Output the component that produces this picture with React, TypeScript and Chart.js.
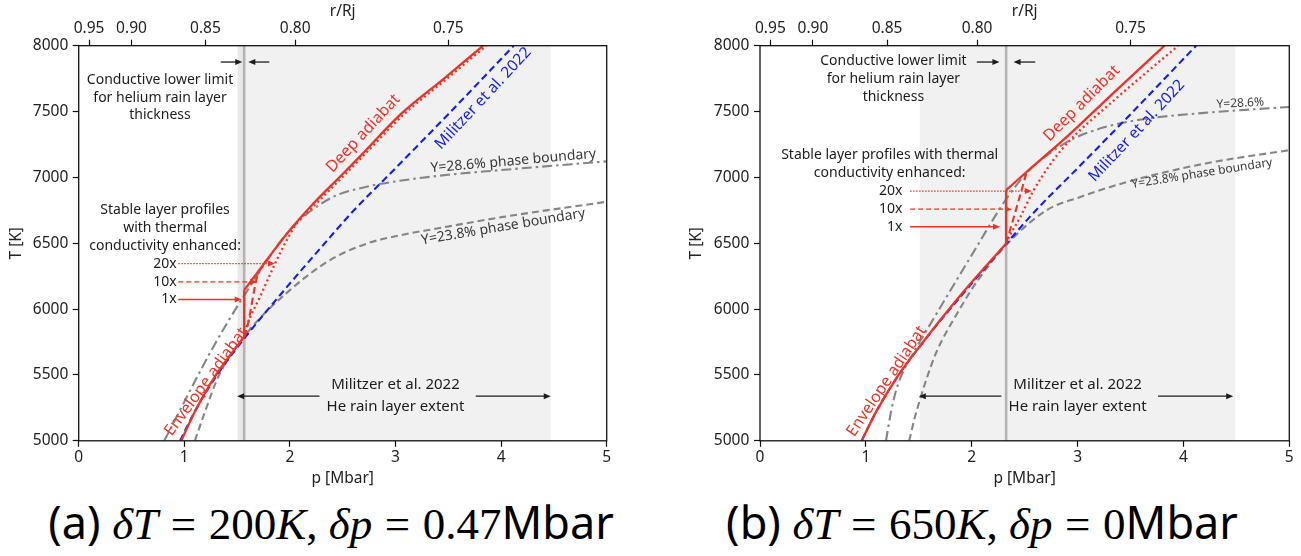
import React, { useEffect, useRef } from 'react';
import { Chart, registerables } from 'chart.js';

Chart.register(...registerables);

// ---------------- data ----------------
// top axis: r/Rj labels placed at the pressure where they occur
const R_TICK_P = [0.098, 0.5, 1.2, 2.05, 3.5];
const R_TICK_LABELS = ['0.95', '0.90', '0.85', '0.80', '0.75'];
const P_TICKS = [0, 1, 2, 3, 4, 5];
const T_TICKS = [5000, 5500, 6000, 6500, 7000, 7500, 8000];

// Militzer et al. 2022 profile (same in both panels)
const MIL_P = [0.96, 1.1, 1.3, 1.576, 1.9, 2.33, 2.6, 3.0, 3.5, 4.12];
const MIL_T = [5000, 5225, 5488, 5785, 6100, 6500, 6745, 7070, 7480, 8000];

// Panel (a): dT = 200 K, dp = 0.47 Mbar
const A_ENV_P = [0.97, 1.1, 1.3, 1.567];
const A_ENV_T = [5000, 5220, 5500, 5789];
const A_JUMP_P = [1.567, 1.567];
const A_JUMP_T = [5789, 6144];
const A_DEEP_P = [1.567, 1.78, 2.0, 2.222, 2.474, 2.664, 3.05, 3.45, 3.83];
const A_DEEP_T = [6144, 6372, 6600, 6802, 7005, 7160, 7480, 7745, 8000];
const A_K10_P = [1.567, 1.59, 1.69, 1.748, 1.78];
const A_K10_T = [5789, 5840, 6245, 6334, 6372];
const A_K20_P = [1.567, 1.59, 1.717, 1.86, 1.97, 2.064, 2.25, 2.5, 2.69, 3.08, 3.48, 3.86];
const A_K20_T = [5789, 5865, 6093, 6346, 6524, 6650, 6802, 7005, 7160, 7480, 7745, 8000];
const A_Y286_P = [0.81, 1.275, 1.559, 2.0, 2.38, 2.727, 2.98, 3.5, 3.99, 5.0];
const A_Y286_T = [5000, 5713, 6093, 6600, 6840, 6929, 6967, 7020, 7055, 7122];
const A_Y238_P = [1.1, 1.2, 1.33, 1.59, 2.0, 2.38, 2.73, 3.04, 3.38, 4.02, 5.0];
const A_Y238_T = [5000, 5230, 5500, 5815, 6144, 6372, 6498, 6560, 6610, 6700, 6815];

// Panel (b): dT = 650 K, dp = 0 Mbar
const B_ENV_P = [0.96, 1.1, 1.3, 1.512, 1.9, 2.325];
const B_ENV_T = [5000, 5225, 5490, 5720, 6110, 6498];
const B_JUMP_P = [2.325, 2.325];
const B_JUMP_T = [6498, 6903];
const B_DEEP_P = [2.325, 2.52, 2.9, 3.35, 3.82];
const B_DEEP_T = [6903, 7043, 7309, 7650, 8000];
const B_K10_P = [2.325, 2.426, 2.52];
const B_K10_T = [6498, 6777, 7043];
const B_K20_P = [2.325, 2.36, 2.46, 2.58, 2.77, 2.93, 3.31, 3.95];
const B_K20_T = [6498, 6560, 6700, 6895, 7130, 7283, 7562, 8000];
const B_Y286_P = [1.19, 1.24, 1.3, 1.45, 1.575, 2.0, 2.33, 2.55, 2.75, 2.95, 3.25, 3.6, 4.2, 5.0];
const B_Y286_T = [5000, 5230, 5420, 5670, 5840, 6410, 6840, 7060, 7190, 7290, 7380, 7440, 7490, 7535];
const B_Y238_P = [1.41, 1.46, 1.52, 1.575, 1.67, 1.85, 2.05, 2.325, 2.71, 3.02, 3.51, 4.21, 5.0];
const B_Y238_T = [5000, 5170, 5335, 5475, 5680, 5950, 6210, 6486, 6752, 6850, 6975, 7106, 7207];

// ---------------- styles ----------------
const RED = 'rgb(238,50,38)';
const BLUE = 'rgb(18,30,238)';
const GRAY = '#858585';
const INK = '#1c1c1c';
const FONT = '"Noto Sans", "Open Sans", sans-serif';

type Series = { p: number[]; t: number[]; color: string; width: number; dash: number[]; smooth: boolean };
type Label = { lines: string[]; p: number; t: number; rot: number; size: number; color: string; align?: CanvasTextAlign; gap?: number };
type Arrow = { from: number; to: number; t: number; color: string; width: number; dash: number[] };
type Panel = {
  series: Series[];
  labels: Label[];
  arrows: Arrow[];
  shade: [number, number];
  strip?: [number, number];
  vline: number;
  yWidth: number;
  yTitlePad: number;
  yTickPad: number;
  padRight: number;
};

const solid = (p: number[], t: number[], color: string, smooth = true): Series => ({ p, t, color, width: 2.3, dash: [], smooth });
const dashed = (p: number[], t: number[], color: string): Series => ({ p, t, color, width: 2.1, dash: [7, 4], smooth: true });
const dotted = (p: number[], t: number[], color: string): Series => ({ p, t, color, width: 2.3, dash: [2, 3], smooth: true });
const dashDot = (p: number[], t: number[], color: string): Series => ({ p, t, color, width: 2.1, dash: [10, 4, 2.5, 4], smooth: true });

const bottomNotes = (): { labels: Label[]; arrows: Arrow[] } => ({
  labels: [
    { lines: ['Militzer et al. 2022', 'He rain layer extent'], p: 3.0, t: 5422, rot: 0, size: 15, color: INK, gap: 22 },
  ],
  arrows: [
    { from: 2.28, to: 1.5, t: 5339, color: INK, width: 1.3, dash: [] },
    { from: 3.76, to: 4.47, t: 5339, color: INK, width: 1.3, dash: [] },
  ],
});

const PANEL_A: Panel = {
  series: [
    solid(A_ENV_P, A_ENV_T, RED),
    solid(A_JUMP_P, A_JUMP_T, RED, false),
    solid(A_DEEP_P, A_DEEP_T, RED),
    dashed(A_K10_P, A_K10_T, RED),
    dotted(A_K20_P, A_K20_T, RED),
    dashed(MIL_P, MIL_T, BLUE),
    dashDot(A_Y286_P, A_Y286_T, GRAY),
    dashed(A_Y238_P, A_Y238_T, GRAY),
  ],
  labels: [
    { lines: ['Conductive lower limit', 'for helium rain layer', 'thickness'], p: 0.77, t: 7739, rot: 0, size: 14, color: INK, gap: 17.5 },
    { lines: ['Stable layer profiles', 'with thermal', 'conductivity enhanced:'], p: 0.818, t: 6752, rot: 0, size: 14, color: INK, gap: 18 },
    { lines: ['20x'], p: 0.928, t: 6346, rot: 0, size: 14, color: INK, align: 'right' },
    { lines: ['10x'], p: 0.928, t: 6207, rot: 0, size: 14, color: INK, align: 'right' },
    { lines: ['1x'], p: 0.928, t: 6073, rot: 0, size: 14, color: INK, align: 'right' },
    { lines: ['Deep adiabat'], p: 2.695, t: 7334, rot: -47, size: 16, color: RED },
    { lines: ['Militzer et al. 2022'], p: 3.83, t: 7600, rot: -47, size: 15.5, color: BLUE },
    { lines: ['Envelope adiabat'], p: 1.207, t: 5448, rot: -54, size: 16, color: RED },
    { lines: ['Y=28.6% phase boundary'], p: 4.116, t: 7124, rot: -5, size: 14, color: '#3a3a3a' },
    { lines: ['Y=23.8% phase boundary'], p: 4.02, t: 6625, rot: -9.5, size: 14, color: '#3a3a3a' },
    ...bottomNotes().labels,
  ],
  arrows: [
    { from: 0.943, to: 1.859, t: 6346, color: RED, width: 1.2, dash: [1.5, 1.5] },
    { from: 0.943, to: 1.69, t: 6207, color: RED, width: 1.3, dash: [5, 3] },
    { from: 0.943, to: 1.544, t: 6073, color: RED, width: 1.4, dash: [] },
    { from: 1.345, to: 1.549, t: 7876, color: INK, width: 1.3, dash: [] },
    { from: 1.805, to: 1.606, t: 7876, color: INK, width: 1.3, dash: [] },
    ...bottomNotes().arrows,
  ],
  shade: [1.505, 4.47],
  strip: [1.505, 1.567],
  vline: 1.567,
  yWidth: 78.7,
  yTitlePad: 7.7,
  yTickPad: 4.4,
  padRight: 43.3,
};

const PANEL_B: Panel = {
  series: [
    solid(B_ENV_P, B_ENV_T, RED),
    solid(B_JUMP_P, B_JUMP_T, RED, false),
    solid(B_DEEP_P, B_DEEP_T, RED),
    dashed(B_K10_P, B_K10_T, RED),
    dotted(B_K20_P, B_K20_T, RED),
    dashed(MIL_P, MIL_T, BLUE),
    dashDot(B_Y286_P, B_Y286_T, GRAY),
    dashed(B_Y238_P, B_Y238_T, GRAY),
  ],
  labels: [
    { lines: ['Conductive lower limit', 'for helium rain layer', 'thickness'], p: 1.26, t: 7884, rot: 0, size: 14, color: INK, gap: 18 },
    { lines: ['Stable layer profiles with thermal', 'conductivity enhanced:'], p: 1.225, t: 7169, rot: 0, size: 14, color: INK, gap: 18.3 },
    { lines: ['20x'], p: 1.346, t: 6896, rot: 0, size: 14, color: INK, align: 'right' },
    { lines: ['10x'], p: 1.346, t: 6759, rot: 0, size: 14, color: INK, align: 'right' },
    { lines: ['1x'], p: 1.346, t: 6625, rot: 0, size: 14, color: INK, align: 'right' },
    { lines: ['Deep adiabat'], p: 3.04, t: 7562, rot: -45, size: 16, color: RED },
    { lines: ['Militzer et al. 2022'], p: 3.56, t: 7354, rot: -47, size: 15.5, color: BLUE },
    { lines: ['Envelope adiabat'], p: 1.196, t: 5452, rot: -56, size: 16, color: RED },
    { lines: ['Y=28.6%'], p: 4.537, t: 7562, rot: -3, size: 12, color: '#3a3a3a' },
    { lines: ['Y=23.8% phase boundary'], p: 4.175, t: 7030, rot: -9, size: 12, color: '#3a3a3a' },
    ...bottomNotes().labels,
  ],
  arrows: [
    { from: 1.418, to: 2.568, t: 6896, color: RED, width: 1.2, dash: [1.5, 1.5] },
    { from: 1.418, to: 2.38, t: 6759, color: RED, width: 1.3, dash: [5, 3] },
    { from: 1.418, to: 2.268, t: 6625, color: RED, width: 1.4, dash: [] },
    { from: 2.048, to: 2.262, t: 7876, color: INK, width: 1.3, dash: [] },
    { from: 2.6, to: 2.395, t: 7876, color: INK, width: 1.3, dash: [] },
    ...bottomNotes().arrows,
  ],
  shade: [1.51, 4.49],
  vline: 2.325,
  yWidth: 110,
  yTitlePad: 37.4,
  yTickPad: 4.7,
  padRight: 11.7,
};

// ---------------- drawing helpers ----------------
function drawArrow(ctx: CanvasRenderingContext2D, x0: number, y: number, x1: number, a: Arrow) {
  const dir = Math.sign(x1 - x0) || 1;
  const head = 7;
  ctx.save();
  ctx.strokeStyle = a.color;
  ctx.fillStyle = a.color;
  ctx.lineWidth = a.width;
  ctx.setLineDash(a.dash);
  ctx.beginPath();
  ctx.moveTo(x0, y);
  ctx.lineTo(x1 - dir * head * 0.7, y);
  ctx.stroke();
  ctx.setLineDash([]);
  ctx.beginPath();
  ctx.moveTo(x1, y);
  ctx.lineTo(x1 - dir * head, y - 3);
  ctx.lineTo(x1 - dir * head, y + 3);
  ctx.closePath();
  ctx.fill();
  ctx.restore();
}

function panelPlugin(panel: Panel) {
  return {
    id: 'panelDecor',
    beforeDatasetsDraw(chart: any) {
      const { ctx, chartArea: ca, scales } = chart;
      const xs = scales.x;
      ctx.save();
      ctx.fillStyle = '#f1f1f1';
      const s0 = xs.getPixelForValue(panel.shade[0]);
      const s1 = xs.getPixelForValue(panel.shade[1]);
      ctx.fillRect(s0, ca.top, s1 - s0, ca.bottom - ca.top);
      if (panel.strip) {
        ctx.fillStyle = '#e9e9e9';
        const a0 = xs.getPixelForValue(panel.strip[0]);
        const a1 = xs.getPixelForValue(panel.strip[1]);
        ctx.fillRect(a0, ca.top, a1 - a0, ca.bottom - ca.top);
      }
      const vx = xs.getPixelForValue(panel.vline);
      ctx.strokeStyle = '#b3b3b3';
      ctx.lineWidth = 2.6;
      ctx.beginPath();
      ctx.moveTo(vx, ca.top);
      ctx.lineTo(vx, ca.bottom);
      ctx.stroke();
      ctx.restore();
    },
    afterDatasetsDraw(chart: any) {
      const { ctx, chartArea: ca, scales } = chart;
      const xs = scales.x;
      const ys = scales.y;
      ctx.save();
      for (const a of panel.arrows) {
        drawArrow(ctx, xs.getPixelForValue(a.from), ys.getPixelForValue(a.t), xs.getPixelForValue(a.to), a);
      }
      for (const l of panel.labels) {
        const x = xs.getPixelForValue(l.p);
        const y = ys.getPixelForValue(l.t);
        ctx.save();
        ctx.translate(x, y);
        ctx.rotate((l.rot * Math.PI) / 180);
        ctx.font = `${l.size}px ${FONT}`;
        ctx.fillStyle = l.color;
        ctx.textAlign = l.align || 'center';
        ctx.textBaseline = 'middle';
        l.lines.forEach((line, i) => ctx.fillText(line, 0, i * (l.gap || 18)));
        ctx.restore();
      }
      ctx.strokeStyle = '#111';
      ctx.lineWidth = 1.3;
      ctx.strokeRect(ca.left, ca.top, ca.right - ca.left, ca.bottom - ca.top);
      ctx.restore();
    },
  };
}

function buildChart(canvas: HTMLCanvasElement, panel: Panel) {
  const datasets = panel.series.map((s) => ({
    data: s.p.map((p, i) => ({ x: p, y: s.t[i] })),
    showLine: true,
    pointRadius: 0,
    pointHoverRadius: 0,
    borderColor: s.color,
    backgroundColor: s.color,
    borderWidth: s.width,
    borderDash: s.dash,
    borderCapStyle: 'butt' as const,
    cubicInterpolationMode: s.smooth ? ('monotone' as const) : ('default' as const),
    tension: 0,
    fill: false,
  }));
  const tickFont = { family: FONT, size: 15.5 };
  const grid = { drawOnChartArea: false, drawTicks: true, tickLength: 6, tickColor: '#111', tickWidth: 1.2, color: '#111' };
  return new Chart(canvas, {
    type: 'scatter',
    data: { datasets },
    options: {
      animation: false,
      responsive: false,
      maintainAspectRatio: false,
      events: [],
      layout: { padding: { left: 0, right: panel.padRight, top: 0, bottom: 1.2 } },
      plugins: { legend: { display: false }, tooltip: { enabled: false } },
      scales: {
        x: {
          type: 'linear',
          position: 'bottom',
          min: 0,
          max: 5,
          afterBuildTicks: (ax: any) => {
            ax.ticks = P_TICKS.map((v) => ({ value: v }));
          },
          ticks: { autoSkip: false, padding: 1, color: '#222', font: tickFont, callback: (v: any) => String(v) },
          grid,
          border: { display: false },
          title: { display: true, text: 'p [Mbar]', color: '#222', font: tickFont, padding: { top: 0, bottom: 0.5 } },
          afterFit: (s: any) => {
            s.height = 48;
          },
        },
        x2: {
          type: 'linear',
          position: 'top',
          min: 0,
          max: 5,
          afterBuildTicks: (ax: any) => {
            ax.ticks = R_TICK_P.map((v) => ({ value: v }));
          },
          ticks: { autoSkip: false, padding: 2, color: '#222', font: tickFont, callback: (_v: any, i: number) => R_TICK_LABELS[i] },
          grid,
          border: { display: false },
          title: { display: true, text: 'r/Rj', color: '#222', font: tickFont, padding: { top: 2, bottom: 0 } },
          afterFit: (s: any) => {
            s.height = 45.7;
          },
        },
        y: {
          type: 'linear',
          position: 'left',
          min: 5000,
          max: 8000,
          afterBuildTicks: (ax: any) => {
            ax.ticks = T_TICKS.map((v) => ({ value: v }));
          },
          ticks: { autoSkip: false, padding: panel.yTickPad, color: '#222', font: tickFont, callback: (v: any) => String(v) },
          grid,
          border: { display: false },
          title: { display: true, text: 'T [K]', color: '#222', font: tickFont, padding: { top: panel.yTitlePad, bottom: 0 } },
          afterFit: (s: any) => {
            s.width = panel.yWidth;
          },
        },
      },
    } as any,
    plugins: [panelPlugin(panel)],
  });
}

function PanelCanvas({ panel, left, width }: { panel: Panel; left: number; width: number }) {
  const ref = useRef<HTMLCanvasElement | null>(null);
  useEffect(() => {
    if (!ref.current) return;
    const chart = buildChart(ref.current, panel);
    return () => chart.destroy();
  }, [panel]);
  return (
    <canvas
      ref={ref}
      width={width}
      height={490}
      style={{ position: 'absolute', left, top: 0, width, height: 490, display: 'block' }}
    />
  );
}

const MATH = '"Liberation Serif", "DejaVu Serif", serif';
const SANS = '"Noto Sans", "Open Sans", sans-serif';

function Caption({ tag, dT, dp, center }: { tag: string; dT: string; dp: string; center: number }) {
  const it = { fontFamily: MATH, fontStyle: 'italic' as const };
  const up = { fontFamily: MATH };
  const eq = { fontFamily: MATH, margin: '0 0.28em' };
  const sans = { fontFamily: SANS };
  return (
    <div
      style={{
        position: 'absolute',
        left: center - 360,
        width: 720,
        top: 494,
        textAlign: 'center',
        fontSize: 45,
        lineHeight: '56px',
        color: '#000',
        whiteSpace: 'nowrap',
      }}
    >
      <span style={sans}>({tag}) </span>
      <span style={it}>δT</span>
      <span style={eq}>=</span>
      <span style={up}>{dT}</span>
      <span style={it}>K</span>
      <span style={up}>, </span>
      <span style={it}>δp</span>
      <span style={eq}>=</span>
      <span style={up}>{dp}</span>
      <span style={sans}>Mbar</span>
    </div>
  );
}

export default function App() {
  return (
    <div style={{ position: 'absolute', left: 0, top: 0, width: 1301, height: 556, background: '#fff', overflow: 'hidden' }}>
      <PanelCanvas panel={PANEL_A} left={0} width={650} />
      <PanelCanvas panel={PANEL_B} left={650} width={651} />
      <Caption tag="a" dT="200" dp="0.47" center={331} />
      <Caption tag="b" dT="650" dp="0" center={982} />
    </div>
  );
}
